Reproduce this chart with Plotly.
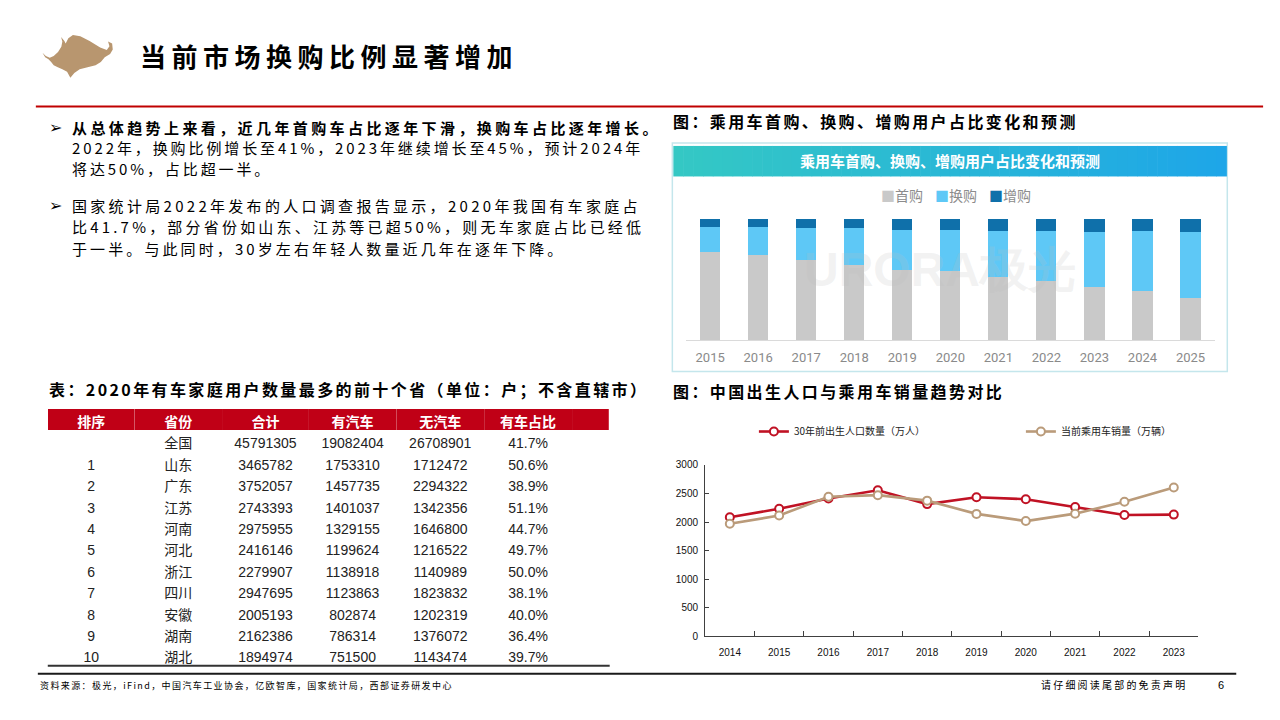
import plotly.graph_objects as go

W, H = 1280, 720
OFF = 8  # page body margin compensation


def px(x):
    return (x - OFF) / W


def py(y):
    return 1 - (y - OFF) / H


# ---------------- data ----------------
bar_years = ['2015', '2016', '2017', '2018', '2019', '2020', '2021', '2022', '2023', '2024', '2025']
first_buy = [73, 70, 66, 62, 58, 57, 52, 49, 44, 40, 35]
replace_buy = [20, 23, 26, 30, 33, 34, 38, 41, 45, 50, 54]
add_buy = [7, 7, 8, 8, 9, 9, 10, 10, 11, 10, 11]
labeled_years = ['2022', '2023', '2024', '2025']
bar_names = ['首购', '换购', '增购']

line_years = ['2014', '2015', '2016', '2017', '2018', '2019', '2020', '2021', '2022', '2023']
births_30y = [2084, 2234, 2412, 2557, 2315, 2436, 2401, 2263, 2125, 2131]
car_sales = [1970, 2115, 2445, 2472, 2376, 2144, 2018, 2148, 2356, 2606]
line_names = ['30年前出生人口数量（万人）', '当前乘用车销量（万辆）']

table_headers = ['排序', '省份', '合计', '有汽车', '无汽车', '有车占比']
ranks = ['', '1', '2', '3', '4', '5', '6', '7', '8', '9', '10']
provinces = ['全国', '山东', '广东', '江苏', '河南', '河北', '浙江', '四川', '安徽', '湖南', '湖北']
totals = [45791305, 3465782, 3752057, 2743393, 2975955, 2416146, 2279907, 2947695, 2005193, 2162386, 1894974]
with_car = [19082404, 1753310, 1457735, 1401037, 1329155, 1199624, 1138918, 1123863, 802874, 786314, 751500]
without_car = [26708901, 1712472, 2294322, 1342356, 1646800, 1216522, 1140989, 1823832, 1202319, 1376072, 1143474]
car_share = ['41.7%', '50.6%', '38.9%', '51.1%', '44.7%', '49.7%', '50.0%', '38.1%', '40.0%', '36.4%', '39.7%']

# ---------------- styles ----------------
CJK = 'Noto Sans CJK SC'
LAT = 'Liberation Sans'
GRAY = '#C9C9C9'
LBLUE = '#5EC8F6'
DBLUE = '#0F70AA'
RED = '#C01224'
TAN = '#BA9B7A'
BULL = '#B8966F'

fig = go.Figure()

# ---------------- stacked bars ----------------
for name, vals, col in zip(bar_names, [first_buy, replace_buy, add_buy], [GRAY, LBLUE, DBLUE]):
    fig.add_trace(go.Bar(x=bar_years, y=vals, name=name, marker=dict(color=col, line=dict(width=0)),
                         width=0.42, xaxis='x', yaxis='y', showlegend=False, hoverinfo='skip'))

# ---------------- line chart ----------------
for name, vals, col in zip(line_names, [births_30y, car_sales], [RED, TAN]):
    fig.add_trace(go.Scatter(x=line_years, y=vals, name=name, mode='lines+markers',
                             line=dict(color=col, width=2.6),
                             marker=dict(symbol='circle', size=8, color='white', line=dict(color=col, width=2)),
                             xaxis='x2', yaxis='y2', legend='legend2', cliponaxis=False))

# ---------------- table ----------------
share_col_pad = [''] * len(ranks)
fig.add_trace(go.Table(
    domain=dict(x=[px(48), px(613)], y=[py(690), py(410)]),
    columnwidth=[87.5, 88, 87.5, 88, 88.5, 88.5, 37],
    header=dict(values=table_headers + [''],
                fill_color='#C00016', line=dict(color='#C00016', width=0),
                font=dict(family=CJK, size=14, color='white', weight='bold'), align='center', height=21),
    cells=dict(values=[ranks, provinces, totals, with_car, without_car, car_share, share_col_pad],
               fill_color='rgba(0,0,0,0)', line=dict(color='rgba(0,0,0,0)', width=0),
               font=dict(family=[LAT, CJK, LAT, LAT, LAT, LAT, LAT], size=14, color='#222222'),
               align='center', height=21.4)
))

shapes = []
annotations = []

# ---------------- slide decorations ----------------
# bull logo (rough silhouette)
bull_pts = [(38, 70), (48, 80), (60, 85), (72, 80), (85, 68), (95, 52), (98, 36), (94, 22), (104, 34), (108, 42),
            (116, 26), (130, 16), (152, 20), (180, 34), (212, 54), (232, 62), (240, 50), (236, 36), (248, 42),
            (250, 60), (242, 74), (226, 84), (214, 98), (198, 108), (174, 114), (150, 120), (134, 132),
            (122, 146), (112, 128), (98, 120), (84, 114), (72, 108), (64, 98), (56, 90), (46, 84)]
path = 'M ' + ' L '.join('%.4f,%.4f' % (px(30 + a / 3), py(25 + b / 3)) for a, b in bull_pts) + ' Z'
shapes.append(dict(type='path', xref='paper', yref='paper', path=path, fillcolor=BULL, line=dict(width=0)))

# red rule under title
shapes.append(dict(type='line', xref='paper', yref='paper', x0=px(36), x1=px(1270), y0=py(103), y1=py(103),
                   line=dict(color='#C00000', width=2)))
# footer rule
shapes.append(dict(type='line', xref='paper', yref='paper', x0=px(38), x1=px(1243), y0=py(679), y1=py(679),
                   line=dict(color='#1A1A1A', width=2)))
# table bottom rule
shapes.append(dict(type='line', xref='paper', yref='paper', x0=px(48), x1=px(613), y0=py(671), y1=py(671),
                   line=dict(color='#333333', width=2)))

# bar chart image frame
shapes.append(dict(type='rect', xref='paper', yref='paper', x0=px(676), x1=px(1234), y0=py(372), y1=py(140),
                   fillcolor='white', line=dict(color='#C4E6EC', width=1.5), layer='below'))
# gradient header band
n_strips = 56
x_start, x_end = 677.0, 1233.0
c0 = (52, 200, 196)
c1 = (30, 166, 232)
for i in range(n_strips):
    t = i / (n_strips - 1)
    col = 'rgb(%d,%d,%d)' % tuple(round(c0[k] + (c1[k] - c0[k]) * t) for k in range(3))
    xa = x_start + (x_end - x_start) * i / n_strips
    xb = x_start + (x_end - x_start) * (i + 1) / n_strips + 0.6
    shapes.append(dict(type='rect', xref='paper', yref='paper', x0=px(xa), x1=px(xb), y0=py(174), y1=py(143),
                       fillcolor=col, line=dict(width=0), layer='below'))


def sp(text, ls):
    return '<span style="letter-spacing:%spx">%s</span>' % (ls, text)


def txt(x, y, text, size, color='#000000', family=CJK, xanchor='left', bold=False, ls=None):
    t = '<b>%s</b>' % text if bold else text
    if ls is not None:
        t = sp(t, ls)
    annotations.append(dict(xref='paper', yref='paper', x=px(x), y=py(y), text=t, showarrow=False,
                            xanchor=xanchor, yanchor='middle', font=dict(family=family, size=size, color=color)))


# title
txt(139, 51, '当前市场换购比例显著增加', 26, bold=True, ls=5.5)

# bullets
txt(47, 124, '➢', 16, family='DejaVu Sans')
txt(70, 124, '从总体趋势上来看，近几年首购车占比逐年下滑，换购车占比逐年增长。', 15, bold=True, ls=3.4)
txt(70, 145, '2022年，换购比例增长至41%，2023年继续增长至45%，预计2024年', 15, ls=2.9)
txt(70, 166, '将达50%，占比超一半。', 15, ls=2.9)
txt(47, 203, '➢', 16, family='DejaVu Sans')
txt(70, 203, '国家统计局2022年发布的人口调查报告显示，2020年我国有车家庭占', 15, ls=3.3)
txt(70, 225, '比41.7%，部分省份如山东、江苏等已超50%，则无车家庭占比已经低', 15, ls=3.2)
txt(70, 247, '于一半。与此同时，30岁左右年轻人数量近几年在逐年下降。', 15, ls=3.1)

# section titles
txt(675, 118, '图：乘用车首购、换购、增购用户占比变化和预测', 16, bold=True, ls=2.4)
txt(47, 390, '表：2020年有车家庭用户数量最多的前十个省（单位：户；不含直辖市）', 16, bold=True, ls=2.4)
txt(675, 392, '图：中国出生人口与乘用车销量趋势对比', 16, bold=True, ls=2.4)

# bar chart header & legend & watermark
txt(955, 158, '乘用车首购、换购、增购用户占比变化和预测', 15, color='white', xanchor='center', bold=True)
leg_x = [884, 938, 992]
for lx, name, col in zip(leg_x, bar_names, [GRAY, LBLUE, DBLUE]):
    txt(lx, 193, '<span style="color:%s">■</span>%s' % (col, name), 14, color='#8C8C8C')
txt(945, 268, '<b>URORA极光</b>', 48, color='rgba(190,190,190,0.2)', xanchor='center', family=LAT)

# footer
txt(38, 691, '资料来源：极光，iFind，中国汽车工业协会，亿欧智库，国家统计局，西部证券研发中心', 9, ls=1.4)
txt(1045, 690, '请仔细阅读尾部的免责声明', 10, ls=2.2)
txt(1228, 690, '6', 11, family=LAT, xanchor='center')

# percentage labels on forecast bars
for yr in labeled_years:
    i = bar_years.index(yr)
    annotations.append(dict(x=yr, y=first_buy[i] + replace_buy[i] / 2, xref='x', yref='y',
                            text='%d%%' % replace_buy[i], showarrow=False, bgcolor=LBLUE,
                            width=30, height=21, font=dict(family='Roboto', size=13, color='white')))
    annotations.append(dict(x=yr, y=first_buy[i] + replace_buy[i] + add_buy[i] / 2 + 0.8, xref='x', yref='y',
                            text='%d%%' % add_buy[i], showarrow=False, bgcolor=DBLUE,
                            width=31, height=20, font=dict(family='Roboto', size=13, color='white')))

fig.update_layout(
    width=W, height=H,
    margin=dict(l=0, r=0, t=0, b=0),
    paper_bgcolor='white', plot_bgcolor='rgba(0,0,0,0)',
    barmode='stack', bargap=0.5,
    shapes=shapes, annotations=annotations,
    xaxis=dict(domain=[px(689.85), px(1221.15)], anchor='y', type='category', range=[-0.5, 10.5],
               showgrid=False, showline=True, linecolor='#DADADA', linewidth=1, ticks='',
               ticklabelstandoff=5,
               tickfont=dict(family='Roboto', size=13, color='#8A8A8A'), fixedrange=True),
    yaxis=dict(domain=[py(340), py(217)], anchor='x', range=[0, 100], visible=False, fixedrange=True),
    xaxis2=dict(domain=[px(709), px(1205)], anchor='y2', type='category', range=[-0.5, 9.5],
                tickson='boundaries', ticks='inside', ticklen=5, tickcolor='#404040',
                showgrid=False, showline=True, linecolor='#404040', linewidth=1.2,
                ticklabelstandoff=7,
                tickfont=dict(family=LAT, size=10, color='#111111'), fixedrange=True),
    yaxis2=dict(domain=[py(641), py(467)], anchor='x2', range=[0, 3000], dtick=500,
                ticks='inside', ticklen=4, tickcolor='#404040', showgrid=False, zeroline=False,
                showline=True, linecolor='#404040', linewidth=1.2, ticklabelstandoff=4,
                tickfont=dict(family=LAT, size=10, color='#111111'), fixedrange=True),
    legend2=dict(orientation='h', x=px(758), y=py(433), xanchor='left', yanchor='middle',
                 entrywidth=222, entrywidthmode='pixels', itemwidth=30,
                 font=dict(family=CJK, size=10, color='#222222'), bgcolor='rgba(0,0,0,0)', traceorder='normal'),
    showlegend=True,
)

fig.write_html('out.html')
